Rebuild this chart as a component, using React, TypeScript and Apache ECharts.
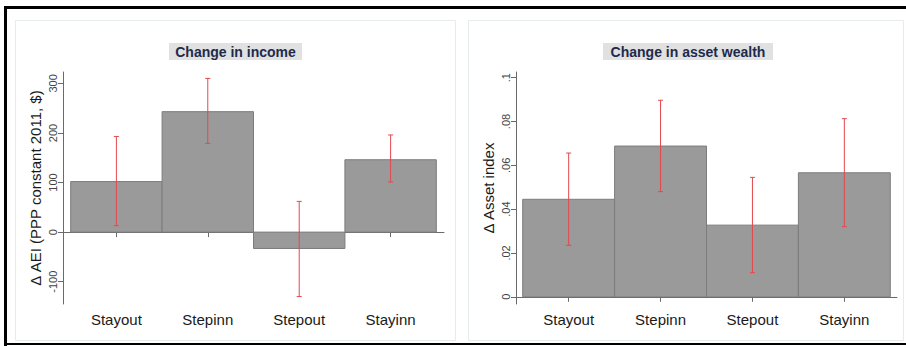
import React, { useEffect, useRef } from "react";
import * as echarts from "echarts";

const categories = ["Stayout", "Stepinn", "Stepout", "Stayinn"];
const incomeValues = [102, 243, -33, 146];
const incomeLow = [13, 179, -130, 101];
const incomeHigh = [193, 310, 62, 196];
const incomeTicks = [-100, 0, 100, 200, 300];
const assetValues = [0.0445, 0.0688, 0.0327, 0.0566];
const assetLow = [0.0235, 0.048, 0.011, 0.032];
const assetHigh = [0.0656, 0.0897, 0.0545, 0.0813];
const assetTicks = [0, 0.02, 0.04, 0.06, 0.08, 0.1];
const catPositions = [1, 2, 3, 4];

const FONT = "'Liberation Sans', Arial, sans-serif";
const BAR_FILL = "#9a9a9a";
const BAR_EDGE = "#7c7c7c";
const ERR = "#e4484c";

function barRender(params: any, api: any) {
  const x = api.value(0);
  const v = api.value(1);
  const a = api.coord([x - 0.5, v]);
  const b = api.coord([x + 0.5, 0]);
  const y0 = Math.min(a[1], b[1]);
  const h = Math.abs(a[1] - b[1]);
  return {
    type: "rect",
    shape: { x: a[0], y: y0, width: b[0] - a[0], height: h },
    style: { fill: BAR_FILL, stroke: BAR_EDGE, lineWidth: 1 },
  };
}

function errRender(params: any, api: any) {
  const x = api.value(0);
  const lo = api.coord([x, api.value(1)]);
  const hi = api.coord([x, api.value(2)]);
  const cap = 2.5;
  const st = { stroke: ERR, lineWidth: 1 };
  return {
    type: "group",
    children: [
      { type: "line", shape: { x1: lo[0], y1: lo[1], x2: hi[0], y2: hi[1] }, style: st },
      { type: "line", shape: { x1: lo[0] - cap, y1: lo[1], x2: lo[0] + cap, y2: lo[1] }, style: st },
      { type: "line", shape: { x1: hi[0] - cap, y1: hi[1], x2: hi[0] + cap, y2: hi[1] }, style: st },
    ],
  };
}

function fmtAsset(v: number) {
  if (Math.abs(v) < 1e-9) return "0";
  return String(+v.toFixed(2)).replace(/^0/, "");
}

export default function App() {
  const ref = useRef<HTMLDivElement>(null);
  useEffect(() => {
    if (!ref.current) return;
    const chart = echarts.init(ref.current, null, { renderer: "svg" });

    const xAxisBase = (gridIndex: number, min: number, max: number) => ({
      type: "value",
      gridIndex,
      min,
      max,
      axisLine: { show: true, lineStyle: { color: "#6a6a6a", width: 1 } },
      axisTick: { show: true, length: 5, customValues: catPositions, lineStyle: { color: "#6a6a6a" } },
      axisLabel: {
        customValues: catPositions,
        formatter: (v: number) => categories[Math.round(v) - 1] ?? "",
        fontFamily: FONT,
        fontSize: 15,
        color: "#1a1a1a",
        margin: 8,
      },
      splitLine: { show: false },
    });

    const yAxisBase = (gridIndex: number, min: number, max: number, ticks: number[], name: string, fmt: (v: number) => string) => ({
      type: "value",
      gridIndex,
      min,
      max,
      name,
      nameLocation: "middle",
      nameGap: 20,
      nameTextStyle: { fontFamily: FONT, fontSize: 15, color: "#1a1a1a" },
      axisLine: { show: true, lineStyle: { color: "#6a6a6a", width: 1 } },
      axisTick: { show: true, length: 5, customValues: ticks, lineStyle: { color: "#6a6a6a" } },
      axisLabel: {
        customValues: ticks,
        rotate: 90,
        formatter: fmt,
        fontFamily: FONT,
        fontSize: 11,
        color: "#444",
        margin: 5,
      },
      splitLine: { show: false },
    });

    const incomeBars = catPositions.map((x, i) => [x, incomeValues[i]]);
    const incomeErr = catPositions.map((x, i) => [x, incomeLow[i], incomeHigh[i]]);
    const assetBars = catPositions.map((x, i) => [x, assetValues[i]]);
    const assetErr = catPositions.map((x, i) => [x, assetLow[i], assetHigh[i]]);

    chart.setOption({
      animation: false,
      backgroundColor: "#ffffff",
      grid: [
        { left: 63, top: 72, width: 381, height: 232 },
        { left: 516, top: 72, width: 381, height: 232 },
      ],
      xAxis: [xAxisBase(0, 0.416, 4.584), xAxisBase(1, 0.427, 4.573)],
      yAxis: [
        yAxisBase(0, -145, 323, incomeTicks, "\u0394 AEI (PPP constant 2011, $)", (v: number) => String(v)),
        yAxisBase(1, -0.0033, 0.1026, assetTicks, "\u0394 Asset index", fmtAsset),
      ],
      series: [
        { type: "custom", xAxisIndex: 0, yAxisIndex: 0, renderItem: barRender, data: incomeBars, z: 2 },
        { type: "custom", xAxisIndex: 0, yAxisIndex: 0, renderItem: errRender, data: incomeErr, z: 3 },
        { type: "custom", xAxisIndex: 1, yAxisIndex: 1, renderItem: barRender, data: assetBars, z: 2 },
        { type: "custom", xAxisIndex: 1, yAxisIndex: 1, renderItem: errRender, data: assetErr, z: 3 },
      ],
      graphic: [
        { type: "rect", z: -10, shape: { x: 15.5, y: 20.5, width: 440, height: 320 }, style: { fill: "#fff", stroke: "#e6ebeb", lineWidth: 1 } },
        { type: "rect", z: -10, shape: { x: 468.5, y: 20.5, width: 435, height: 320 }, style: { fill: "#fff", stroke: "#e6ebeb", lineWidth: 1 } },
        { type: "rect", shape: { x: 169, y: 43, width: 133, height: 17 }, style: { fill: "#e1e1e1" } },
        { type: "text", x: 235.5, y: 52, style: { text: "Change in income", fill: "#1e2a4c", font: `bold 14px ${FONT}`, textAlign: "center", textVerticalAlign: "middle" } },
        { type: "rect", shape: { x: 603, y: 43, width: 170, height: 17 }, style: { fill: "#e1e1e1" } },
        { type: "text", x: 688, y: 52, style: { text: "Change in asset wealth", fill: "#1e2a4c", font: `bold 14px ${FONT}`, textAlign: "center", textVerticalAlign: "middle" } },
        { type: "rect", z: 10, shape: { x: 4, y: 6, width: 902, height: 3 }, style: { fill: "#000" } },
        { type: "rect", z: 10, shape: { x: 4, y: 6, width: 3, height: 340 }, style: { fill: "#000" } },
        { type: "rect", z: 10, shape: { x: 4, y: 343, width: 902, height: 2 }, style: { fill: "#000" } },
      ],
    });
    return () => chart.dispose();
  }, []);
  return (
    <div
      ref={ref}
      style={{ position: "absolute", left: 0, top: 0, width: 906, height: 346 }}
    />
  );
}
